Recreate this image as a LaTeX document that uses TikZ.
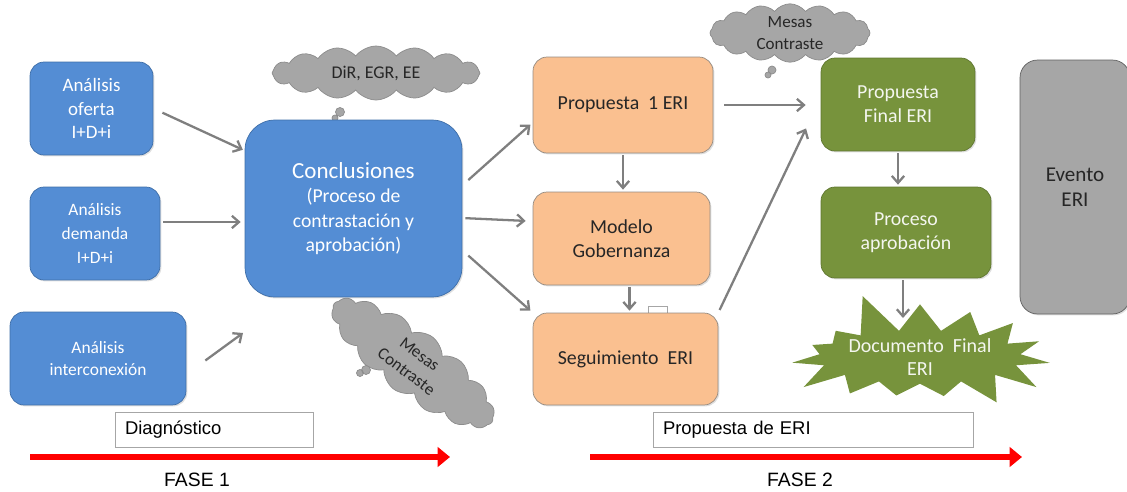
\documentclass[tikz,border=0pt]{standalone}
\usepackage{fontspec}
\setmainfont{Carlito}
\newfontfamily\arialfont{Liberation Sans}
\usetikzlibrary{shapes.symbols, arrows.meta, calc, shadows}

\definecolor{blueFill}{RGB}{84,141,212}
\definecolor{blueLine}{RGB}{62,110,168}
\definecolor{orangeFill}{RGB}{250,192,144}
\definecolor{orangeLine}{RGB}{150,140,130}
\definecolor{greenFill}{RGB}{119,147,60}
\definecolor{greenLine}{RGB}{95,118,48}
\definecolor{cloudGray}{RGB}{166,166,166}
\definecolor{cloudLine}{RGB}{140,140,140}
\definecolor{arrowGray}{RGB}{127,127,127}

\begin{document}
\begin{tikzpicture}[x=0.02cm, y=-0.02cm,
    roundbox/.style={rounded corners=8pt, inner sep=2pt, align=center,
      drop shadow={opacity=0.25, shadow xshift=0.8pt, shadow yshift=-0.8pt}},
    bluebox/.style={roundbox, fill=blueFill, draw=blueLine, text=white},
    orangebox/.style={roundbox, fill=orangeFill, draw=orangeLine, text=black!85,
      font=\fontsize{11.3}{13.6}\selectfont},
    greenbox/.style={roundbox, fill=greenFill, draw=greenLine, text=white!92!greenFill,
      font=\fontsize{11.3}{13.6}\selectfont},
    thought/.style={cloud, cloud puffs=16, cloud puff arc=105, fill=cloudGray,
      draw=cloudLine, align=center, inner sep=0pt, text=black!85},
    conn/.style={-{Straight Barb[length=4pt,width=7pt]}, draw=arrowGray, line width=1.3pt},
    phasearrow/.style={-{Triangle[length=7pt,width=11pt]}, red, line width=3.6pt},
    stagebox/.style={draw=gray!70, fill=white, minimum height=0.7cm, inner ysep=0pt,
      inner xsep=0.2cm, align=left, font=\arialfont\fontsize{10.5}{12}\selectfont}
]
\useasboundingbox (0,0) rectangle (1127,491);

% clouds
\node[thought, minimum width=4.16cm, minimum height=1.08cm, aspect=3.8,
  font=\fontsize{10.2}{12}\selectfont] (dir) at (376,73) {DiR, EGR, EE};
\filldraw[fill=cloudGray, draw=cloudLine] (340,112) circle (4.5) (335,118) circle (3);
\node[thought, minimum width=3.2cm, minimum height=1.14cm, aspect=2.8,
  font=\fontsize{9.7}{12.5}\selectfont] (mesastop) at (790,33) {Mesas\\Contraste};
\filldraw[fill=cloudGray, draw=cloudLine] (772,70) circle (4) (768,75) circle (3);
\node[thought, rotate=-37, minimum width=3.95cm, minimum height=1.3cm, aspect=3,
  font=\fontsize{9.7}{12.5}\selectfont] (mesasmid) at (413,363) {Mesas\\Contraste};
\filldraw[fill=cloudGray, draw=cloudLine] (366,370) circle (4.5) (360,373) circle (3.5);

% diagnostico
\node[bluebox, minimum width=2.46cm, minimum height=1.86cm,
  font=\fontsize{10.8}{13.6}\selectfont] (oferta) at (91.5,108.5) {Análisis\\oferta\\I+D+i};
\node[bluebox, minimum width=2.6cm, minimum height=1.86cm,
  font=\fontsize{9.9}{13.6}\selectfont] (demanda) at (95,233.5) {Análisis\\demanda\\I+D+i};
\node[bluebox, minimum width=3.52cm, minimum height=1.86cm,
  font=\fontsize{9.9}{12.5}\selectfont] (intercon) at (98,358.5) {Análisis\\interconexión};
\node[bluebox, rounded corners=17pt, minimum width=4.34cm, minimum height=3.54cm,
  font=\fontsize{11.2}{14}\selectfont] (concl) at (353.5,208.5)
  {{\fontsize{13.1}{15}\selectfont Conclusiones}\\(Proceso de\\contrastación y\\aprobación)};

% propuesta
\node[draw=gray!70, fill=white, minimum width=0.38cm, minimum height=0.16cm,
  inner sep=0pt] (tab) at (657.5,310) {};
\node[orangebox, minimum width=3.6cm, minimum height=1.92cm] (prop1) at (623,105) {Propuesta\ \ 1 ERI};
\node[orangebox, minimum width=3.54cm, minimum height=1.86cm] (modelo) at (621.5,238.5) {Modelo\\Gobernanza};
\node[orangebox, minimum width=3.7cm, minimum height=1.84cm] (seguim) at (625.5,359) {Seguimiento\ \ ERI};
\node[greenbox, minimum width=3.08cm, minimum height=1.86cm] (propfinal) at (898,104.5) {Propuesta\\Final ERI};
\node[greenbox, minimum width=3.4cm, minimum height=1.82cm] (proceso) at (906,232.5) {Proceso\\aprobación};
\node[starburst, starburst points=15, starburst point height=0.85cm, random starburst=5,
  fill=greenFill, text=white!92!greenFill, align=center, minimum width=3.1cm,
  minimum height=1.0cm, inner sep=0pt, font=\fontsize{11.4}{13.6}\selectfont]
  (docfinal) at (920,357) {Documento\ \ Final\\ERI};
\node[roundbox, rounded corners=10pt, fill=cloudGray, draw=gray!75!black, text=black!85,
  minimum width=2.2cm, minimum height=5.08cm, font=\fontsize{12}{14.5}\selectfont]
  (evento) at (1075,187) {Evento\\ERI};
\coordinate (docin) at (903,318);
\coordinate (cin) at (243,333);

% flechas
\draw[conn, shorten <=0.2cm, shorten >=0.04cm] (oferta.east) -- (concl.152.5);
\draw[conn, shorten <=0.06cm, shorten >=0.08cm] (demanda.10) -- (demanda.10 -| concl.west);
\draw[conn] ($(intercon.east)+(19,2)$) -- (cin);
\draw[conn, shorten <=0.16cm, shorten >=0.06cm] (concl.12) -- (prop1.191);
\draw[conn, shorten <=0.06cm, shorten >=0.14cm] (concl.-5) -- (modelo.169);
\draw[conn, shorten <=0.16cm, shorten >=0.06cm] (concl.-21) -- (seguim.north west);
\draw[conn, shorten <=0.04cm, shorten >=0.04cm] (prop1.south) -- (prop1.south |- modelo.north);
\draw[conn, shorten <=0.04cm, shorten >=0.04cm] ($(modelo.south)+(8,0)$) -- ($(modelo.south |- seguim.north)+(8,0)$);
\draw[conn, shorten <=0.22cm, shorten >=0.3cm] (prop1.east) -- (prop1.east -| propfinal.west);
\draw[conn, shorten <=0.06cm, shorten >=0.68cm] (seguim.north east) -- (propfinal.175);
\draw[conn, shorten <=0.04cm, shorten >=0.04cm] (propfinal.south) -- (propfinal.south |- proceso.north);
\draw[conn, shorten <=0.04cm] (proceso.south -| docin) -- (docin);

% fases
\node[stagebox, text width=3.56cm] (diag) at (214,429.5) {Diagnóstico};
\node[stagebox, text width=6.0cm] (propstage) at (813,429.5) {Propuesta de ERI};
\coordinate (f1a) at (30,457);
\coordinate (f1b) at (450,457);
\coordinate (f2a) at (590,457);
\coordinate (f2b) at (1022,457);
\draw[phasearrow] (f1a) -- (f1b);
\draw[phasearrow] (f2a) -- (f2b);
\node[font=\arialfont\fontsize{11}{13}\selectfont] (fase1) at (197,480) {FASE 1};
\node[font=\arialfont\fontsize{11}{13}\selectfont] (fase2) at (800,480) {FASE 2};
\end{tikzpicture}
\end{document}
